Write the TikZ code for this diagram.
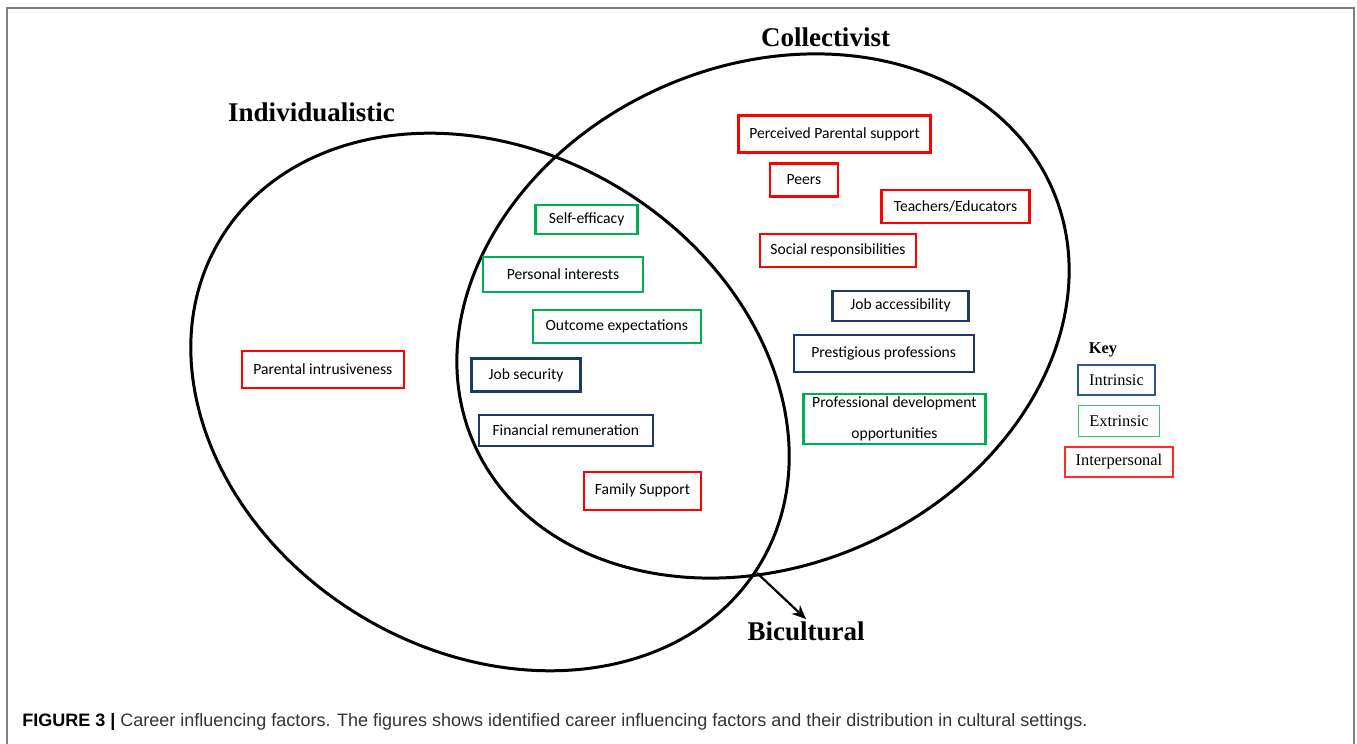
\documentclass[tikz,border=0pt]{standalone}
\usepackage{fontspec}
\setmainfont{Liberation Serif}
\newfontfamily\boxfont{Carlito}
\newfontfamily\capfont{Liberation Sans}
\usetikzlibrary{arrows.meta}
\definecolor{intrinsic}{HTML}{1F3864}
\definecolor{extrinsic}{HTML}{00B050}
\definecolor{interpersonal}{HTML}{FF0000}
\definecolor{keyintr}{HTML}{2F5597}
\definecolor{keyextr}{HTML}{3CC46A}
\definecolor{keyinter}{HTML}{FF2B2B}

\begin{document}
\begin{tikzpicture}[x=0.5pt,y=0.5pt,
  factor/.style={draw,line width=1.2pt,align=center,inner sep=0pt,font=\boxfont\fontsize{7.8}{9.5}\selectfont},
  keybox/.style={draw,line width=0.6pt,inner sep=0pt,font=\fontsize{8.2}{10}\selectfont},
  culture/.style={font=\fontsize{13.5}{16}\selectfont\bfseries,inner sep=1pt}]
\useasboundingbox (0,0) rectangle (1357,744);
\draw[gray,line width=1pt] (7,0) -- (7,736) -- (1354,736) -- (1354,0);
% the two cultures
\draw[line width=1.5pt,rotate around={-31:(490,342)}] (490,342) ellipse [x radius=315,y radius=250];
\draw[line width=1.5pt,rotate around={24:(763,428)}] (763,428) ellipse [x radius=316,y radius=250];
\node[culture] (indiv) at (311.5,632) {Individualistic};
\node[culture] (collect) at (825.5,707) {Collectivist};
\node[culture] (bicult) at (806,113) {Bicultural};
\coordinate (cross) at (757,171);
\draw[line width=1.1pt,-{Stealth[length=7pt,width=6pt]}] (cross) -- (bicult.north);
% factors
\foreach \nm/\x/\y/\w/\h/\col/\txt in {
  selfeff/586.6/524.5/51/14.5/extrinsic/Self-efficacy,
  persint/563/469.7/80/17.5/extrinsic/Personal interests,
  outexp/616.8/417.7/84/16.5/extrinsic/Outcome expectations,
  parint/322.8/374.5/81/18.5/interpersonal/Parental intrusiveness,
  jobsec/526/369/54.5/16.5/intrinsic/Job security,
  finrem/565.8/313.5/87/15.5/intrinsic/Financial remuneration,
  famsup/642.5/253.2/58.5/19/interpersonal/Family Support,
  percpar/834.6/609.8/96/18.5/interpersonal/Perceived Parental support,
  peers/803.8/564/34/16.5/interpersonal/Peers,
  teach/955.5/537.3/74/16.5/interpersonal/{Teachers/Educators},
  socresp/838/493.2/78/16.5/interpersonal/Social responsibilities,
  jobacc/900.5/438.2/68/15/intrinsic/Job accessibility,
  prest/883.7/390.7/90/18.5/intrinsic/Prestigious professions,
  profdev/894.4/324.7/91/25/extrinsic/{Professional development\\[6pt]opportunities}}{
  \node[factor,draw=\col,minimum width=\w pt,minimum height=\h pt] (\nm) at (\x,\y) {\txt};}
% key
\node[font=\fontsize{8.2}{10}\selectfont\bfseries] (key) at (1103,394) {Key};
\node[keybox,draw=keyintr,minimum width=38.5pt,minimum height=15pt] (kintr) at (1116.5,364) {Intrinsic};
\node[keybox,draw=keyextr,minimum width=40.75pt,minimum height=15.25pt] (kextr) at (1119,323) {Extrinsic};
\node[keybox,draw=keyinter,minimum width=54pt,minimum height=15pt] (kinter) at (1119,282) {Interpersonal};
\node[anchor=west,inner sep=0pt,font=\capfont\fontsize{9}{11}\selectfont,text=black!80] (caption) at (22,22)
  {\textbf{\color{black}FIGURE 3 |} Career influencing factors. The figures shows identified career influencing factors and their distribution in cultural settings.};
\end{tikzpicture}
\end{document}
